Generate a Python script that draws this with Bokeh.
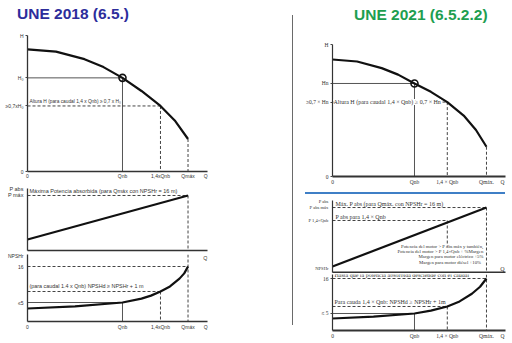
from bokeh.plotting import figure
from bokeh.layouts import row, column
from bokeh.models import FixedTicker, Label, Div, Range1d
from bokeh.embed import file_html
from bokeh.resources import INLINE

# ---------------- data (relative units) ----------------
Q_NB = 1.0
Q_14 = 1.4

# UNE 2018
L_QMAX = 1.69
L_QEND = 1.895
L_H_Q = [0.0, 0.3, 0.6, 0.8, 1.0, 1.2, 1.4, 1.55, 1.69]
L_H = [1.305, 1.28, 1.2, 1.115, 1.0, 0.86, 0.70, 0.545, 0.347]
L_H0 = 1.0
L_H07 = 0.7
L_H_TOP = 1.4526
L_P_Q = [0.0, 1.69]
L_P = [0.2, 1.0]
L_PMAX = 1.0
L_P_TOP = 1.127
L_N_Q = [0.0, 0.5, 1.0, 1.2, 1.3, 1.4, 1.5, 1.6, 1.65, 1.69]
L_N = [3.17, 3.8, 5.0, 6.2, 7.1, 8.36, 9.9, 12.3, 13.9, 16.0]
L_N16 = 16.0
L_N14 = 8.36
L_N5 = 5.0
L_N_BOT = -0.806
L_N_TOP = 19.67

L_X_TICKS = [0.0, Q_NB, Q_14, L_QMAX, L_QEND - 0.02]
L_X_LABELS = ["0", "Qnb", "1,4xQnb", "Qmáx", "Q"]
L_H_TICKS = [0.0, L_H07, L_H0, L_H_TOP - 0.004]
L_H_LABELS = ["0", "≥0,7xH₀", "H₀", "H"]
L_P_TICKS = [L_PMAX, L_P_TOP - 0.01]
L_P_LABELS = ["P máx", "P abs"]
L_N_TICKS = [L_N5, L_N16, L_N_TOP - 0.1]
L_N_LABELS = ["≤5", "16", "NPSHr"]

# UNE 2021
R_QMAX = 1.878
R_QEND = 2.11
R_H_Q = [0.0, 0.3, 0.6, 0.8, 1.0, 1.2, 1.4, 1.6, 1.75, 1.878]
R_H = [1.258, 1.236, 1.165, 1.095, 1.0, 0.91, 0.80, 0.655, 0.5, 0.32]
R_HN = 1.0
R_H07 = 0.8
R_H_TOP = 1.419
R_P_Q = [0.0, 1.878]
R_P = [0.092, 1.0]
R_PMAX = 1.0
R_P14 = 0.8
R_P_TOP = 1.108
R_P_NPSH_LABEL = 0.062
R_N_Q = [0.0, 0.5, 1.0, 1.2, 1.4, 1.55, 1.7, 1.8, 1.878]
R_N = [3.42, 4.0, 5.0, 5.9, 7.2, 8.8, 11.2, 13.4, 16.0]
R_N16 = 16.0
R_N14 = 7.2
R_N5 = 5.0
R_N_BOT = -0.35
R_N_TOP = 17.26

R_X_TICKS = [0.0, Q_NB, Q_14, R_QMAX, R_QEND - 0.037]
R_X_LABELS = ["0", "Qnb", "1,4 × Qnb", "Qmáx.", "Q"]
R_H_TICKS = [0.0, R_H07, R_HN, R_H_TOP - 0.004]
R_H_LABELS = ["0", "≥0,7 × Hn", "Hn", "H"]
R_P_TICKS = [R_P_NPSH_LABEL, R_P14, R_PMAX, R_P_TOP - 0.012]
R_P_LABELS = ["NPSHr", "P 1,4×Qnb", "P abs máx", "P abs"]
R_N_TICKS = [R_N5, R_N16]
R_N_LABELS = ["≤ 5", "16"]

MOTOR_NOTES = ["Potencia del motor > P abs máx y también,",
               "Potencia del motor > P 1,4×Qnb + %Margen",
               "Margen para motor eléctrico +5%",
               "Margen para motor diésel   +10%"]

FL = "Liberation Sans"
FR = "Liberation Serif"
TXT = "#333333"
GUIDE = "#555555"
CURVE = "#111111"


def make_fig(w, h, xr, yr, bl, br, bt, bb):
    p = figure(width=w, height=h, x_range=Range1d(*xr), y_range=Range1d(*yr),
               output_backend="svg", toolbar_location=None,
               min_border_left=bl, min_border_right=br,
               min_border_top=bt, min_border_bottom=bb)
    p.grid.visible = False
    p.outline_line_color = None
    p.background_fill_color = "white"
    p.border_fill_color = "white"
    return p


def set_axis(ax, ticks, labels, font, size, lw, tick_out=2, standoff=2, tick_color="#444444"):
    ax.ticker = FixedTicker(ticks=ticks)
    ax.major_label_overrides = {t: l for t, l in zip(ticks, labels)}
    ax.major_label_text_font = font
    ax.major_label_text_font_size = size
    ax.major_label_text_color = TXT
    ax.major_label_standoff = standoff
    ax.major_tick_out = tick_out
    ax.major_tick_in = 0
    ax.major_tick_line_color = tick_color
    ax.minor_tick_line_color = None
    ax.axis_line_color = "#333333"
    ax.axis_line_width = lw


def lab(p, x, y, text, size, font, align="left", baseline="middle", xo=0, yo=0,
        color=TXT, bg=None):
    p.add_layout(Label(x=x, y=y, text=text, text_font_size=size, text_font=font,
                       text_align=align, text_baseline=baseline, x_offset=xo,
                       y_offset=yo, text_color=color, background_fill_color=bg))


def solid(p, x0, y0, x1, y1):
    p.segment(x0=[x0], y0=[y0], x1=[x1], y1=[y1], line_color=GUIDE, line_width=1)


def dashed(p, x0, y0, x1, y1):
    p.segment(x0=[x0], y0=[y0], x1=[x1], y1=[y1], line_color="#444444",
              line_width=1, line_dash="3 2")


def title_div(text, width, height, pad, color):
    html = ('<div style="padding-left:%dpx;line-height:%dpx;font-family:\'Liberation Sans\';'
            'font-size:15.5px;font-weight:bold;color:%s;white-space:nowrap">%s</div>'
            % (pad, height, color, text))
    return Div(text=html, width=width, height=height, margin=(0, 0, 0, 0))


# ---------------- UNE 2018 ----------------
LW = 292
t_left = title_div("UNE 2018 (6.5.)", LW, 28, 17, "#2d2d9b")

l1 = make_fig(LW, 153, (0, L_QEND), (0, L_H_TOP), 27, 85, 7, 8)
set_axis(l1.xaxis[0], L_X_TICKS, L_X_LABELS, FL, "5px", 1.3, tick_out=0, standoff=1)
set_axis(l1.yaxis[0], L_H_TICKS, L_H_LABELS, FL, "5px", 1.3)
solid(l1, 0, L_H0, Q_NB, L_H0)
solid(l1, Q_NB, L_H0, Q_NB, 0)
dashed(l1, 0, L_H07, Q_14, L_H07)
dashed(l1, Q_14, L_H07, Q_14, 0)
dashed(l1, L_QMAX, L_H[-1], L_QMAX, 0)
l1.line(L_H_Q, L_H, line_color=CURVE, line_width=2.2)
l1.scatter([Q_NB], [L_H0], size=7, marker="circle", fill_alpha=0,
           line_color=CURVE, line_width=1.6)
lab(l1, 0, L_H07, "Altura H (para caudal 1,4 x Qnb) ≥ 0,7 x H₀", "4.8px", FL,
    baseline="bottom", xo=2, yo=2)

l2 = make_fig(LW, 71, (0, L_QEND), (0, L_P_TOP), 27, 85, 7, 2)
set_axis(l2.xaxis[0], [], [], FL, "5px", 1.3, tick_out=0, standoff=0)
set_axis(l2.yaxis[0], L_P_TICKS, L_P_LABELS, FL, "5.5px", 1.3, tick_color=None)
dashed(l2, 0, L_PMAX, L_QMAX, L_PMAX)
dashed(l2, L_QMAX, L_PMAX, L_QMAX, 0)
l2.line(L_P_Q, L_P, line_color=CURVE, line_width=2.2)
lab(l2, 0, L_PMAX, "Máxima Potencia absorbida (para Qmáx con NPSHr = 16 m)", "5.5px", FL,
    baseline="bottom", xo=2, yo=1)

l3 = make_fig(LW, 91, (0, L_QEND), (L_N_BOT, L_N_TOP), 27, 85, 2, 22)
set_axis(l3.xaxis[0], L_X_TICKS, L_X_LABELS, FL, "5px", 1.3, tick_out=0, standoff=2)
set_axis(l3.yaxis[0], L_N_TICKS, L_N_LABELS, FL, "5px", 1.3, tick_color=None)
dashed(l3, 0, L_N16, L_QMAX, L_N16)
dashed(l3, 0, L_N14, Q_14, L_N14)
solid(l3, 0, L_N5, Q_NB, L_N5)
solid(l3, Q_NB, L_N5, Q_NB, L_N_BOT)
dashed(l3, Q_14, L_N14, Q_14, L_N_BOT)
dashed(l3, L_QMAX, L_N_TOP, L_QMAX, L_N_BOT)
l3.line(L_N_Q, L_N, line_color=CURVE, line_width=2.2)
lab(l3, L_QEND, L_N_TOP, "Q", "5.5px", FL, align="center", baseline="top", xo=-2, yo=0)
lab(l3, 0, L_N14, "(para caudal 1.4 x Qnb) NPSHd ≥ NPSHr + 1 m", "5.4px", FL,
    baseline="bottom", xo=2, yo=3)

left = column(t_left, l1, l2, l3, spacing=0)

# ---------------- separator ----------------
sep = Div(text="", width=1, height=310, margin=(15, 0, 0, 0),
          styles={"background-color": "#6a6a6a"})

# ---------------- UNE 2021 ----------------
RW = 219
t_right = title_div("UNE 2021 (6.5.2.2)", RW, 30, 61, "#1e9e50")

r1 = make_fig(RW, 162, (0, R_QEND), (0, R_H_TOP), 39, 7, 14, 16)
set_axis(r1.xaxis[0], R_X_TICKS, R_X_LABELS, FR, "5.5px", 1.8, tick_out=0, standoff=2)
set_axis(r1.yaxis[0], R_H_TICKS, R_H_LABELS, FR, "5.5px", 1.2)
solid(r1, 0, R_HN, Q_NB, R_HN)
solid(r1, Q_NB, R_HN, Q_NB, 0)
dashed(r1, 0, R_H07, Q_14, R_H07)
dashed(r1, Q_14, R_H07, Q_14, 0)
dashed(r1, R_QMAX, R_H[-1], R_QMAX, 0)
r1.line(R_H_Q, R_H, line_color=CURVE, line_width=2.2)
r1.scatter([Q_NB], [R_HN], size=7, marker="circle", fill_alpha=0,
           line_color=CURVE, line_width=1.6)
lab(r1, 0, R_H07, "Altura H (para caudal 1,4 × Qnb) ≥ 0,7 × Hn", "6px", FR, xo=1,
    bg="white")

blue = Div(text="", width=200, height=2, margin=(0, 0, 0, 12),
           styles={"background-color": "#3f7fc6"})

r2 = make_fig(RW, 79, (0, R_QEND), (0, R_P_TOP), 39, 7, 6, 1)
set_axis(r2.xaxis[0], [], [], FR, "5px", 2, tick_out=0, standoff=0)
set_axis(r2.yaxis[0], R_P_TICKS, R_P_LABELS, FR, "4.6px", 1.2, tick_color=None)
dashed(r2, 0, R_PMAX, R_QMAX, R_PMAX)
dashed(r2, 0, R_P14, Q_14, R_P14)
dashed(r2, Q_14, R_P14, Q_14, 0.4)
dashed(r2, R_QMAX, R_PMAX, R_QMAX, 0)
r2.line(R_P_Q, R_P, line_color=CURVE, line_width=2.2)
lab(r2, 0, R_PMAX, "Máx. P abs (para Qmáx. con NPSHr = 16 m)", "6px", FR,
    baseline="bottom", xo=3, yo=1)
lab(r2, 0, R_P14, "P abs para 1,4 × Qnb", "6px", FR, baseline="bottom", xo=3, yo=1)
for t, yo in zip(MOTOR_NOTES, [26, 21, 16, 10]):
    lab(r2, R_QMAX, 0, t, "4.8px", FR, align="right", xo=-3, yo=yo)
lab(r2, R_QEND, 0, "Q", "6px", FR, align="center", baseline="bottom", xo=-3, yo=1)

r3 = make_fig(RW, 70, (0, R_QEND), (R_N_BOT, R_N_TOP), 39, 7, 1, 13)
set_axis(r3.xaxis[0], R_X_TICKS, R_X_LABELS, FR, "5.5px", 2, tick_out=0, standoff=2)
set_axis(r3.yaxis[0], R_N_TICKS, R_N_LABELS, FR, "5.5px", 1.2)
dashed(r3, 0, R_N16, R_QMAX, R_N16)
dashed(r3, 0, R_N14, Q_14, R_N14)
solid(r3, 0, R_N5, Q_NB, R_N5)
solid(r3, Q_NB, R_N5, Q_NB, R_N_BOT)
dashed(r3, Q_14, R_N14, Q_14, R_N_BOT)
dashed(r3, R_QMAX, R_N_TOP, R_QMAX, R_N_BOT)
r3.line(R_N_Q, R_N, line_color=CURVE, line_width=2.2)
lab(r3, 0, R_N16, "Hasta que la potencia absorbida desciende con el caudal", "6px", FR,
    baseline="bottom", xo=2, yo=1)
lab(r3, 0, R_N14, "Para cauda 1,4 × Qnb: NPSHd ≥ NPSHr + 1m", "6px", FR,
    baseline="bottom", xo=2, yo=1)

right = column(t_right, r1, blue, r2, r3, spacing=0)

layout = row(left, sep, right, spacing=0)
open("out.html", "w").write(file_html(layout, INLINE))
